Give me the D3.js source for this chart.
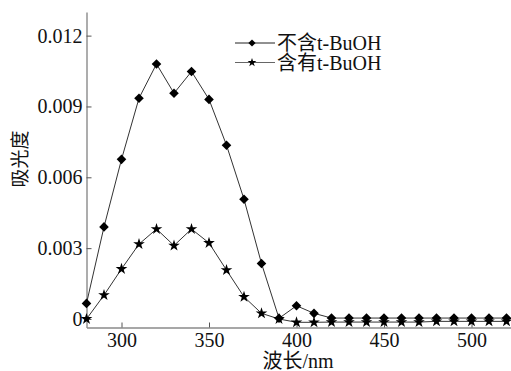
<!DOCTYPE html>
<html><head><meta charset="utf-8">
<script src="https://cdn.jsdelivr.net/npm/d3@7"></script>
</head>
<body style="margin:0;background:#fff">
<svg id="c" width="511" height="371" style="display:block"></svg>
<script>
const wavelengths = [280,290,300,310,320,330,340,350,360,370,380,390,400,410,420,430,440,450,460,470,480,490,500,510,520];
const withoutTBuOH = [0.00066,0.0039,0.00676,0.00935,0.0108,0.00956,0.01048,0.0093,0.00736,0.00507,0.00235,0.00003,0.00056,0.00024,0.00004,0.00004,0.00004,0.00004,0.00004,0.00004,0.00004,0.00004,0.00004,0.00004,0.00004];
const withTBuOH = [0,0.00101,0.00212,0.00317,0.00381,0.00311,0.00381,0.00322,0.00207,0.00094,0.00024,0,-0.00014,-0.00014,-0.00013,-0.00013,-0.00013,-0.00013,-0.00013,-0.00013,-0.0001,-0.0001,-0.0001,-0.0001,-0.0001];
const seriesNames = ["不含t-BuOH","含有t-BuOH"];
const xTicks = [300,350,400,450,500];
const yTicks = [0,0.003,0.006,0.009,0.012];

const SERIF = '"Liberation Serif"';
const CJK = '"Noto Sans CJK SC"';

const svg = d3.select("#c").style("font-family",SERIF);
const x = d3.scaleLinear().domain([280,523]).range([86.5,511.75]);
const y = d3.scaleLinear().domain([-0.00036,0.013]).range([327.5,12]);
const axisColor = "#8a8a8a";

const gx = svg.append("g").attr("transform","translate(0,327.5)")
  .call(d3.axisBottom(x).tickValues(xTicks).tickSizeInner(-5).tickSizeOuter(0).tickPadding(5).tickFormat(d3.format("d")));
const gy = svg.append("g").attr("transform","translate(86.5,0)")
  .call(d3.axisLeft(y).tickValues(yTicks).tickSizeInner(-5).tickSizeOuter(0).tickPadding(4)
    .tickFormat(d => d === 0 ? "0" : d3.format(".3f")(d)));
[gx,gy].forEach(g => {
  g.attr("font-family","Liberation Serif").attr("font-size",20);
  g.select(".domain").attr("stroke",axisColor).attr("stroke-width",1.4);
  g.selectAll(".tick line").attr("stroke","#555").attr("stroke-width",1);
  g.selectAll(".tick text").attr("fill","#111").attr("font-family","Liberation Serif").attr("font-size",20);
});

const xl = svg.append("text").attr("x",298).attr("y",368).attr("text-anchor","middle")
  .attr("font-size",20).attr("fill","#111");
xl.append("tspan").style("font-family",CJK).text("波长");
xl.append("tspan").style("font-family",SERIF).text("/nm");
svg.append("text").attr("transform","translate(27,159) rotate(-90)").attr("text-anchor","middle")
  .attr("font-size",19).attr("fill","#111").style("font-family",CJK).text("吸光度");

const line = d3.line().x((d,i)=>x(wavelengths[i])).y(d=>y(d));
const diamond = d3.symbol().type(d3.symbolSquare).size(46);
const star = d3.symbol().type(d3.symbolStar).size(42);
const diamondSmall = d3.symbol().type(d3.symbolSquare).size(26);
const starSmall = d3.symbol().type(d3.symbolStar).size(24);

function drawSeries(vals, sym, rot){
  svg.append("path").datum(vals).attr("d",line).attr("fill","none").attr("stroke","#333").attr("stroke-width",1);
  svg.append("g").selectAll("path").data(vals).join("path")
    .attr("d",sym)
    .attr("transform",(d,i)=>`translate(${x(wavelengths[i])},${y(d)}) rotate(${rot})`)
    .attr("fill","#000");
}
drawSeries(withTBuOH, star, 0);
drawSeries(withoutTBuOH, diamond, 45);

const leg = [{name:seriesNames[0],sym:diamondSmall,rot:45,yy:43,col:"#222"},{name:seriesNames[1],sym:starSmall,rot:0,yy:62.5,col:"#666"}];
leg.forEach(l => {
  svg.append("line").attr("x1",235).attr("x2",275).attr("y1",l.yy).attr("y2",l.yy).attr("stroke",l.col).attr("stroke-width",1);
  svg.append("path").attr("d",l.sym).attr("transform",`translate(252,${l.yy}) rotate(${l.rot})`).attr("fill","#000");
  const t = svg.append("text").attr("x",277).attr("y",l.yy+7).attr("font-size",20).attr("fill","#111");
  t.append("tspan").style("font-family",CJK).text(l.name.slice(0,2));
  t.append("tspan").style("font-family",SERIF).text(l.name.slice(2));
});
</script>
</body></html>
